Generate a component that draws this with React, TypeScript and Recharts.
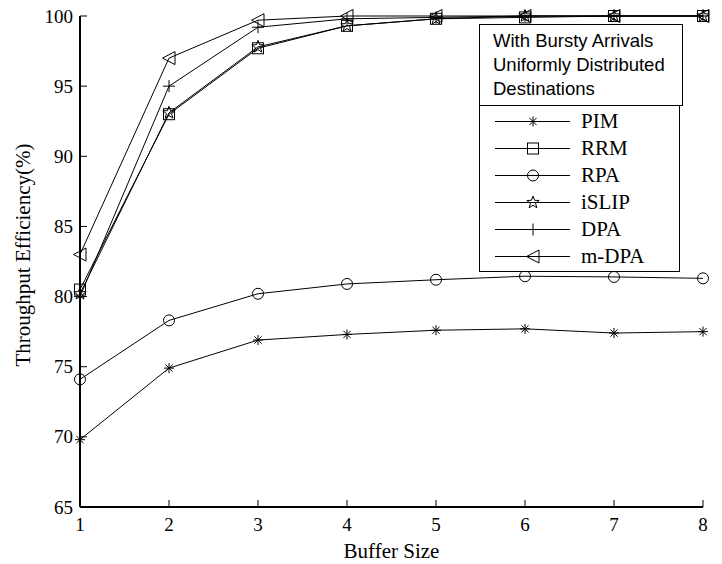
import React from "react";
import {
  LineChart, Line, XAxis, YAxis, Legend, Label,
} from "recharts";

const bufferSizes = [1, 2, 3, 4, 5, 6, 7, 8];
const xTicks = [1, 2, 3, 4, 5, 6, 7, 8];
const yTicks = [65, 70, 75, 80, 85, 90, 95, 100];

const pim = [69.8, 74.9, 76.9, 77.3, 77.6, 77.7, 77.4, 77.5];
const rrm = [80.5, 93.0, 97.7, 99.3, 99.8, 99.9, 100, 100];
const rpa = [74.1, 78.3, 80.2, 80.9, 81.2, 81.45, 81.4, 81.3];
const islip = [80.2, 93.1, 97.8, 99.3, 99.8, 100, 100, 100];
const dpa = [80.0, 95.0, 99.2, 99.8, 99.9, 100, 100, 100];
const mdpa = [83.0, 97.0, 99.7, 100, 100, 100, 100, 100];

const series = [
  { key: "pim", name: "PIM", marker: "asterisk", values: pim },
  { key: "rrm", name: "RRM", marker: "square", values: rrm },
  { key: "rpa", name: "RPA", marker: "circle", values: rpa },
  { key: "islip", name: "iSLIP", marker: "star", values: islip },
  { key: "dpa", name: "DPA", marker: "plus", values: dpa },
  { key: "mdpa", name: "m-DPA", marker: "triangle", values: mdpa },
];

const data = bufferSizes.map((b, i) => {
  const row: Record<string, number> = { buffer: b };
  series.forEach((s) => { row[s.key] = s.values[i]; });
  return row;
});

const SERIF = "'Liberation Serif', 'Times New Roman', serif";
const SANS = "'Liberation Sans', Arial, sans-serif";

function Marker({ kind, cx, cy }: { kind: string; cx: number; cy: number }) {
  const st = { stroke: "#000", strokeWidth: 1, fill: "none" };
  if (kind === "circle") return <circle cx={cx} cy={cy} r={5.5} {...st} />;
  if (kind === "square") return <rect x={cx - 5.5} y={cy - 5.5} width={11} height={11} {...st} />;
  if (kind === "plus")
    return <path d={`M${cx - 6},${cy}H${cx + 6}M${cx},${cy - 6}V${cy + 6}`} {...st} />;
  if (kind === "asterisk") {
    const r = 5, d = 3.6;
    return (
      <path
        d={`M${cx - r},${cy}H${cx + r}M${cx},${cy - r}V${cy + r}M${cx - d},${cy - d}L${cx + d},${cy + d}M${cx - d},${cy + d}L${cx + d},${cy - d}`}
        {...st}
      />
    );
  }
  if (kind === "triangle")
    return <path d={`M${cx - 6.5},${cy}L${cx + 6},${cy - 6.5}L${cx + 6},${cy + 6.5}Z`} {...st} />;
  if (kind === "star") {
    const pts: string[] = [];
    for (let i = 0; i < 10; i++) {
      const a = -Math.PI / 2 + (i * Math.PI) / 5;
      const r = i % 2 === 0 ? 6.5 : 2.7;
      pts.push(`${(cx + r * Math.cos(a)).toFixed(2)},${(cy + r * Math.sin(a)).toFixed(2)}`);
    }
    return <polygon points={pts.join(" ")} {...st} />;
  }
  return null;
}

const makeDot = (kind: string) => (props: any) => (
  <g key={`${kind}-${props.index}`}>
    <Marker kind={kind} cx={props.cx} cy={props.cy} />
  </g>
);

const BottomTick = (props: any) => {
  const { x, y, payload } = props;
  return (
    <g>
      <line x1={x} y1={y} x2={x} y2={y - 7} stroke="#000" />
      <text x={x} y={y + 17} textAnchor="middle" dominantBaseline="central"
        fontFamily={SERIF} fontSize={19} fill="#000">{payload.value}</text>
    </g>
  );
};

const LeftTick = (props: any) => {
  const { x, y, payload } = props;
  return (
    <g>
      <line x1={x} y1={y} x2={x + 7} y2={y} stroke="#000" />
      <text x={x - 7} y={y} textAnchor="end" dominantBaseline="central"
        fontFamily={SERIF} fontSize={19} fill="#000">{payload.value}</text>
    </g>
  );
};

const TopTick = (props: any) => (
  <line x1={props.x} y1={props.y} x2={props.x} y2={props.y + 7} stroke="#000" />
);

const RightTick = (props: any) => (
  <line x1={props.x} y1={props.y} x2={props.x - 7} y2={props.y} stroke="#000" />
);

function LegendBox() {
  return (
    <div style={{ width: 204 }}>
      <div style={{
        border: "1px solid #000", background: "#fff", boxSizing: "border-box",
        height: 82, padding: "4px 0 0 13px", fontFamily: SANS, fontSize: 18.5, lineHeight: "24px",
      }}>
        <div>With Bursty Arrivals</div>
        <div>Uniformly Distributed</div>
        <div>Destinations</div>
      </div>
      <div style={{
        border: "1px solid #000", borderTop: "none", background: "#fff", boxSizing: "border-box",
        width: 201, height: 166, paddingTop: 2,
      }}>
        {series.map((s) => (
          <div key={s.key} style={{ height: 27, display: "flex", alignItems: "center" }}>
            <svg width={100} height={27} style={{ display: "block" }}>
              <line x1={15} y1={13.5} x2={90} y2={13.5} stroke="#000" strokeWidth={1} />
              <Marker kind={s.marker} cx={53} cy={13.5} />
            </svg>
            <span style={{ fontFamily: SERIF, fontSize: 21, marginLeft: 1, lineHeight: "27px" }}>{s.name}</span>
          </div>
        ))}
      </div>
    </div>
  );
}

export default function App() {
  return (
    <div style={{ position: "absolute", left: 0, top: 0, width: 722, height: 564, background: "#fff" }}>
      <LineChart width={722} height={564} data={data}
        margin={{ top: 16, right: 19, left: 0, bottom: 0 }}>
        <XAxis xAxisId="bottom" dataKey="buffer" type="number" domain={[1, 8]} ticks={xTicks}
          interval={0} height={57} tickSize={0} tickMargin={0} tickLine={false}
          axisLine={{ stroke: "#000", strokeWidth: 2 }} tick={<BottomTick />}>
          <Label content={() => (
            <text x={391.5} y={551} textAnchor="middle" dominantBaseline="central"
              fontFamily={SERIF} fontSize={21} fill="#000">Buffer Size</text>
          )} />
        </XAxis>
        <XAxis xAxisId="top" orientation="top" dataKey="buffer" type="number" domain={[1, 8]}
          ticks={xTicks} interval={0} height={0} tickSize={0} tickMargin={0} tickLine={false}
          axisLine={{ stroke: "#000", strokeWidth: 1.3 }} tick={<TopTick />} />
        <YAxis yAxisId="left" type="number" domain={[65, 100]} ticks={yTicks} interval={0}
          width={80} tickSize={0} tickMargin={0} tickLine={false}
          axisLine={{ stroke: "#000", strokeWidth: 2 }} tick={<LeftTick />}>
          <Label content={() => (
            <text x={23} y={255} textAnchor="middle" dominantBaseline="central"
              transform="rotate(-90 23 255)" fontFamily={SERIF} fontSize={21} fill="#000">
              Throughput Efficiency(%)
            </text>
          )} />
        </YAxis>
        <YAxis yAxisId="right" orientation="right" type="number" domain={[65, 100]} ticks={yTicks}
          interval={0} width={0} tickSize={0} tickMargin={0} tickLine={false}
          axisLine={{ stroke: "#000", strokeWidth: 1.3 }} tick={<RightTick />} />
        {series.map((s) => (
          <Line key={s.key} xAxisId="bottom" yAxisId="left" dataKey={s.key} name={s.name}
            type="linear" stroke="#000" strokeWidth={1} dot={makeDot(s.marker)}
            activeDot={false} isAnimationActive={false} />
        ))}
        <Legend layout="horizontal" verticalAlign="middle" align="center"
          wrapperStyle={{ position: "absolute", left: 479, top: 24, width: 204 }}
          content={() => <LegendBox />} />
      </LineChart>
    </div>
  );
}
